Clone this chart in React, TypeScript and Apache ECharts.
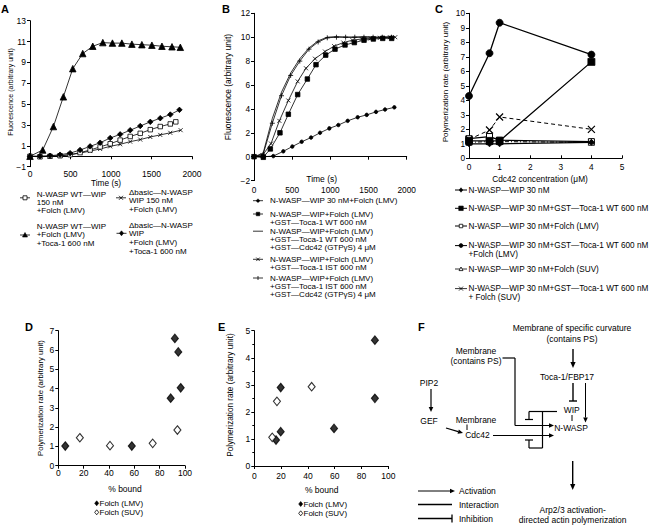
import React, { useEffect, useRef } from "react";
import * as echarts from "echarts";

const FONT = "'Liberation Sans', Arial, Helvetica, sans-serif";
const FS = 8.3;
const LFS = 8;
const BLACK = "#000";

// ---------- Panel A (fluorescence vs time) ----------
const aTriTime = [0, 157, 289, 412, 528, 651, 775, 899, 1018, 1134, 1258, 1381, 1505, 1629, 1753, 1856];
const aTriValue = [0, 0.6, 2.85, 5.7, 8.4, 9.85, 10.55, 10.9, 10.85, 10.85, 10.75, 10.7, 10.65, 10.55, 10.5, 10.45];
const aDiamondTime = [0, 123, 247, 371, 495, 618, 742, 866, 990, 1113, 1237, 1361, 1485, 1608, 1732, 1845];
const aDiamondValue = [0, 0, 0.05, 0.15, 0.3, 0.6, 0.95, 1.3, 1.75, 2.1, 2.5, 2.9, 3.3, 3.65, 4.0, 4.45];
const aSquareTime = [0, 123, 247, 371, 495, 618, 742, 866, 990, 1113, 1237, 1361, 1485, 1608, 1732, 1800];
const aSquareValue = [0, -0.05, 0, 0.05, 0.15, 0.35, 0.6, 0.9, 1.2, 1.55, 1.9, 2.2, 2.55, 2.85, 3.1, 3.3];
const aCrossTime = [0, 123, 247, 371, 495, 618, 742, 866, 990, 1113, 1237, 1361, 1485, 1608, 1732, 1860];
const aCrossValue = [0, 0, 0, 0.05, 0.15, 0.3, 0.5, 0.7, 0.95, 1.15, 1.4, 1.6, 1.85, 2.05, 2.25, 2.5];

// ---------- Panel B ----------
const bCircleTime = [0, 130, 253, 384, 502, 624, 747, 865, 987, 1105, 1227, 1358, 1476, 1598, 1716, 1838];
const bCircleValue = [0, 0, 0.05, 0.45, 0.85, 1.25, 1.6, 2.0, 2.37, 2.65, 3.0, 3.3, 3.5, 3.75, 3.95, 4.13];
const bSquareTime = [0, 122, 214, 340, 450, 572, 699, 812, 939, 1061, 1192, 1314, 1441, 1563, 1686, 1803];
const bSquareValue = [0, -0.05, 0.65, 2.0, 3.55, 5.2, 6.5, 7.7, 8.5, 9.0, 9.35, 9.55, 9.75, 9.85, 9.9, 9.9];
const bCrossTime = [0, 110, 223, 332, 450, 572, 681, 799, 930, 1050, 1170, 1290, 1410, 1530, 1650, 1780, 1850];
const bCrossValue = [0, 0.1, 1.1, 3.0, 4.7, 6.3, 7.4, 8.2, 8.8, 9.25, 9.55, 9.75, 9.85, 9.9, 9.95, 10.0, 10.0];
const bFastTime = [0, 120, 240, 360, 480, 600, 720, 840, 960, 1080, 1200, 1320, 1440, 1560, 1680, 1800];
const bWtCdc42Value = [0, 0.3, 3.2, 5.4, 7.0, 8.2, 9.1, 9.7, 10.0, 10.05, 10.0, 10.0, 10.05, 10.0, 10.0, 10.05];
const bIstCdc42Value = [0, 0.2, 2.8, 5.1, 6.8, 8.0, 9.0, 9.6, 9.95, 10.0, 10.0, 10.0, 10.0, 10.0, 10.0, 10.0];

// ---------- Panel C ----------
const cConc = [0, 0.67, 1, 4];
const cWaspWip = [1.0, 1.0, 1.0, 1.1];
const cToca = [1.2, 1.2, 1.2, 6.65];
const cFolchLmv = [1.35, 1.5, 1.25, 1.15];
const cTocaFolchLmv = [4.3, 7.25, 9.35, 7.15];
const cFolchSuv = [1.1, 1.15, 1.15, 1.1];
const cTocaFolchSuv = [1.3, 1.95, 2.85, 2.0];

// ---------- Panel D ----------
const dLmvBound = [5.5, 58, 88.7, 92, 94.7, 96.6];
const dLmvRate = [1.02, 1.02, 3.5, 6.6, 5.9, 4.04];
const dSuvBound = [17, 40.8, 74.5, 94];
const dSuvRate = [1.45, 1.04, 1.16, 1.85];

// ---------- Panel E ----------
const eLmvBound = [19.7, 19.7, 16.2, 59.5, 90, 90];
const eLmvRate = [2.9, 1.27, 0.96, 1.39, 4.65, 2.5];
const eSuvBound = [13.4, 16.9, 42.8];
const eSuvRate = [1.06, 2.39, 2.93];

const zip = (xs: number[], ys: number[]) => xs.map((x, i) => [x, ys[i]]);

const CROSS = "path://M0,0L10,10M10,0L0,10";
const PLUS = "path://M5,0L5,10M0,5L10,5";

function txt(x: number, y: number, text: string, o: any = {}) {
  return {
    type: "text",
    x,
    y,
    rotation: o.rot ?? 0,
    silent: true,
    style: {
      text,
      fill: BLACK,
      fontSize: o.size ?? FS,
      fontFamily: FONT,
      fontWeight: o.weight ?? "normal",
      align: o.align ?? "left",
      verticalAlign: o.va ?? "middle",
    },
  };
}
function lines(x: number, y0: number, dy: number, arr: string[], o: any = {}) {
  return arr.map((s, i) => txt(x, y0 + i * dy, s, { size: LFS, ...o }));
}
function ln(x1: number, y1: number, x2: number, y2: number, w = 1, dash?: number[]) {
  return {
    type: "line",
    silent: true,
    shape: { x1, y1, x2, y2 },
    style: { stroke: BLACK, lineWidth: w, lineDash: dash },
  };
}
function arrow(x1: number, y1: number, x2: number, y2: number, w = 1.2, hl = 5, hw = 2.3) {
  const dx = x2 - x1, dy = y2 - y1, L = Math.hypot(dx, dy);
  const ux = dx / L, uy = dy / L;
  const bx = x2 - ux * hl, by = y2 - uy * hl;
  const px = -uy, py = ux;
  return [
    ln(x1, y1, bx, by, w),
    {
      type: "polygon",
      silent: true,
      shape: { points: [[x2, y2], [bx + px * hw, by + py * hw], [bx - px * hw, by - py * hw]] },
      style: { fill: BLACK },
    },
  ];
}
function inhibit(x1: number, y1: number, x2: number, y2: number, w = 1.2, half = 4) {
  const dx = x2 - x1, dy = y2 - y1, L = Math.hypot(dx, dy);
  const px = -dy / L, py = dx / L;
  return [ln(x1, y1, x2, y2, w), ln(x2 + px * half, y2 + py * half, x2 - px * half, y2 - py * half, w)];
}
function sym(kind: string, cx: number, cy: number, half = 5, s = 4, lw = 0.8): any[] {
  const els: any[] = [];
  if (half > 0) els.push(ln(cx - half, cy, cx + half, cy, lw));
  const r = s / 2;
  const fillB = { fill: BLACK, stroke: BLACK, lineWidth: 0.6 };
  const open = { fill: "#fff", stroke: BLACK, lineWidth: 0.8 };
  switch (kind) {
    case "rectOpen":
      els.push({ type: "rect", silent: true, shape: { x: cx - r, y: cy - r, width: s, height: s }, style: open });
      break;
    case "rectFill":
      els.push({ type: "rect", silent: true, shape: { x: cx - r, y: cy - r, width: s, height: s }, style: fillB });
      break;
    case "circleFill":
      els.push({ type: "circle", silent: true, shape: { cx, cy, r }, style: fillB });
      break;
    case "triFill":
    case "triOpen":
      els.push({
        type: "polygon",
        silent: true,
        shape: { points: [[cx, cy - r], [cx + r, cy + r * 0.8], [cx - r, cy + r * 0.8]] },
        style: kind === "triFill" ? fillB : open,
      });
      break;
    case "diamondFill":
    case "diamondOpen":
      els.push({
        type: "polygon",
        silent: true,
        shape: { points: [[cx, cy - r], [cx + r * 0.8, cy], [cx, cy + r], [cx - r * 0.8, cy]] },
        style: kind === "diamondFill" ? fillB : open,
      });
      break;
    case "cross":
      els.push(ln(cx - r, cy - r, cx + r, cy + r, 0.8), ln(cx - r, cy + r, cx + r, cy - r, 0.8));
      break;
    case "plus":
      els.push(ln(cx, cy - r, cx, cy + r, 0.8));
      break;
  }
  return els;
}

const minusFmt = (v: number) => (v < 0 ? "\u2212" + Math.abs(v) : String(v));

function xAxis(grid: number, min: number, max: number, interval: number, extra: any = {}) {
  return {
    type: "value",
    gridIndex: grid,
    min,
    max,
    interval,
    axisLine: { show: true, onZero: true, lineStyle: { color: BLACK, width: 1 } },
    axisTick: { show: true, length: 3, inside: extra.tickInside ?? false, lineStyle: { color: BLACK } },
    axisLabel: {
      color: BLACK,
      fontSize: extra.size ?? FS,
      fontFamily: FONT,
      margin: extra.margin ?? 4,
      showMinLabel: true,
      showMaxLabel: true,
      formatter: minusFmt,
    },
    splitLine: { show: false },
  };
}
function yAxis(grid: number, min: number, max: number, interval: number, extra: any = {}) {
  return {
    type: "value",
    gridIndex: grid,
    min,
    max,
    interval,
    axisLine: { show: true, onZero: false, lineStyle: { color: BLACK, width: 1 } },
    axisTick: { show: true, length: 3, lineStyle: { color: BLACK } },
    minorTick: extra.minor ? { show: true, splitNumber: 2, length: 2, lineStyle: { color: BLACK } } : { show: false },
    axisLabel: {
      color: BLACK,
      fontSize: extra.size ?? FS,
      fontFamily: FONT,
      margin: extra.margin ?? 4,
      showMinLabel: true,
      showMaxLabel: true,
      formatter: minusFmt,
    },
    splitLine: { show: false },
  };
}

function lineSeries(ax: number, data: number[][], symbol: string, size: number, filled: boolean, extra: any = {}) {
  return {
    type: "line",
    xAxisIndex: ax,
    yAxisIndex: ax,
    data,
    color: BLACK,
    symbol,
    symbolSize: size,
    showAllSymbol: true,
    showSymbol: symbol !== "none",
    z: extra.z ?? 2,
    lineStyle: { color: BLACK, width: extra.width ?? 0.8, type: extra.dash ?? "solid" },
    itemStyle: {
      color: filled ? BLACK : symbol.startsWith("path://") ? "rgba(0,0,0,0)" : "#fff",
      borderColor: BLACK,
      borderWidth: extra.bw ?? 0.8,
    },
    emphasis: { disabled: true },
  };
}
function scatterSeries(ax: number, data: number[][], filled: boolean) {
  return {
    type: "scatter",
    xAxisIndex: ax,
    yAxisIndex: ax,
    data,
    symbol: "diamond",
    symbolSize: [7, 8.5],
    itemStyle: { color: filled ? BLACK : "#fff", borderColor: BLACK, borderWidth: 1.1 },
    emphasis: { disabled: true },
  };
}

function buildGraphic() {
  const g: any[] = [];
  // Panel letters
  g.push(txt(1, 9, "A", { size: 11, weight: "bold" }));
  g.push(txt(222, 9, "B", { size: 11, weight: "bold" }));
  g.push(txt(435, 9, "C", { size: 11, weight: "bold" }));
  g.push(txt(25, 327, "D", { size: 11, weight: "bold" }));
  g.push(txt(218, 327, "E", { size: 11, weight: "bold" }));
  g.push(txt(418, 327, "F", { size: 11, weight: "bold" }));

  // Axis names
  g.push(txt(10, 92, "Fluorescence (arbitrary unit)", { align: "center", rot: Math.PI / 2, size: 7 }));
  g.push(txt(106, 183.3, "Time (s)", { align: "center", size: 8.3 }));
  g.push(txt(228, 87, "Fluorescence (arbitrary unit)", { align: "center", rot: Math.PI / 2, size: 8.5 }));
  g.push(txt(321.7, 179, "Time (s)", { align: "center", size: 8.5 }));
  g.push(txt(445, 82, "Polymerization rate (arbitrary unit)", { align: "center", rot: Math.PI / 2, size: 8 }));
  g.push(txt(540, 178.8, "Cdc42 concentration (\u03bcM)", { align: "center", size: 8.3 }));
  g.push(txt(40, 398, "Polymerization rate (arbitrary unit)", { align: "center", rot: Math.PI / 2, size: 7.7 }));
  g.push(txt(125, 489, "% bound", { align: "center", size: 8.5 }));
  g.push(txt(230, 395, "Polymerization rate (arbitrary unit)", { align: "center", rot: Math.PI / 2, size: 8.2 }));
  g.push(txt(321.7, 490, "% bound", { align: "center", size: 8.5 }));

  // Legend A
  g.push(...sym("rectOpen", 25, 197.8, 5, 4));
  g.push(...lines(36.7, 194, 8.1, ["N-WASP WT\u2014WIP", "150 nM", "+Folch (LMV)"]));
  g.push(...sym("cross", 121, 197.8, 5, 4));
  g.push(...lines(129, 192.5, 8.3, ["\u0394basic\u2014N-WASP", "WIP 150 nM", "+Folch (LMV)"]));
  g.push(...sym("triFill", 25, 235, 5, 5));
  g.push(...lines(36.7, 226, 8.6, ["N-WASP WT\u2014WIP", "+Folch (LMV)", "+Toca-1 600 nM"]));
  g.push(...sym("diamondFill", 121.5, 233.3, 5, 5));
  g.push(...lines(129, 225, 8.9, ["\u0394basic\u2014N-WASP", "WIP", "+Folch (LMV)", "+Toca-1 600 nM"]));

  // Legend B
  g.push(...sym("circleFill", 258, 200.7, 5, 3));
  g.push(...lines(270, 200.7, 8.1, ["N-WASP\u2014WIP 30 nM+Folch (LMV)"]));
  g.push(...sym("rectFill", 258, 214, 5, 3.5));
  g.push(...lines(270, 214, 8.1, ["N-WASP\u2014WIP+Folch (LMV)", "+GST\u2014Toca-1 WT 600 nM"]));
  g.push(...sym("none", 258, 231.2, 5, 3));
  g.push(
    ...lines(270, 231.2, 8.1, ["N-WASP\u2014WIP+Folch (LMV)", "+GST\u2014Toca-1 WT 600 nM", "+GST\u2014Cdc42 (GTP\u03b3S) 4 \u03bcM"])
  );
  g.push(...sym("cross", 258, 259.3, 5, 3.5));
  g.push(...lines(270, 259.3, 8.1, ["N-WASP\u2014WIP+Folch (LMV)", "+GST\u2014Toca-1 IST 600 nM"]));
  g.push(...sym("plus", 258, 278, 5, 4));
  g.push(
    ...lines(270, 278, 8.1, ["N-WASP\u2014WIP+Folch (LMV)", "+GST\u2014Toca-1 IST 600 nM", "+GST\u2014Cdc42 (GTP\u03b3S) 4 \u03bcM"])
  );

  // Legend C
  const cs = { size: 8.2 };
  g.push(...sym("diamondFill", 461, 190, 6, 4.5, 1));
  g.push(...lines(468.5, 190, 8.4, ["N-WASP\u2014WIP 30 nM"], cs));
  g.push(...sym("rectFill", 461, 208.3, 6, 4.5, 1));
  g.push(...lines(468.5, 208.3, 8.4, ["N-WASP\u2014WIP 30 nM+GST\u2014Toca-1 WT 600 nM"], cs));
  g.push(...sym("rectOpen", 461, 226, 6, 3.5, 1));
  g.push(...lines(468.5, 226, 8.4, ["N-WASP\u2014WIP 30 nM+Folch (LMV)"], cs));
  g.push(...sym("circleFill", 461, 245.6, 6, 4, 1));
  g.push(...lines(468.5, 245.6, 8.4, ["N-WASP\u2014WIP 30 nM+GST\u2014Toca-1 WT 600 nM", "+Folch (LMV)"], cs));
  g.push(...sym("triOpen", 461, 269, 6, 4, 0.8));
  g.push(...lines(468.5, 269, 8.4, ["N-WASP\u2014WIP 30 nM+Folch (SUV)"], cs));
  g.push(...sym("cross", 461, 288.6, 6, 4, 0.8));
  g.push(...lines(468.5, 288.6, 8.4, ["N-WASP\u2014WIP 30 nM+GST\u2014Toca-1 WT 600 nM", "+ Folch (SUV)"], cs));

  // Legend D / E
  g.push(...sym("diamondFill", 96.7, 503.3, 0, 5));
  g.push(txt(99.5, 503.3, "Folch (LMV)", { size: 8 }));
  g.push(...sym("diamondOpen", 96.7, 512.3, 0, 5));
  g.push(txt(99.5, 512.3, "Folch (SUV)", { size: 8 }));
  g.push(...sym("diamondFill", 300.7, 504, 0, 5));
  g.push(txt(303.5, 504, "Folch (LMV)", { size: 8 }));
  g.push(...sym("diamondOpen", 300.7, 513.3, 0, 5));
  g.push(txt(303.5, 513.3, "Folch (SUV)", { size: 8 }));

  // Panel F diagram
  const F = 8.5;
  g.push(txt(572, 328, "Membrane of specific curvature", { align: "center", size: F }));
  g.push(txt(572, 338.5, "(contains PS)", { align: "center", size: F }));
  g.push(...arrow(573, 349, 573, 368, 1.4, 6, 2.6));
  g.push(txt(567, 377, "Toca-1/FBP17", { align: "center", size: F }));
  g.push(...inhibit(573, 383, 573, 401, 1.4, 4));
  g.push(...arrow(585.5, 383, 585.5, 422.5, 1, 5, 2.3));
  g.push(txt(571.7, 410, "WIP", { align: "center", size: F }));
  g.push(ln(572, 415, 572, 421, 1));
  g.push(txt(571, 427.5, "N-WASP", { align: "center", size: F }));

  g.push(txt(476, 350.5, "Membrane", { align: "center", size: F }));
  g.push(txt(476, 361, "(contains PS)", { align: "center", size: F }));
  g.push(ln(502.5, 358, 515, 358, 1.2));
  g.push(ln(515, 358, 515, 425.5, 1.2));
  g.push(...arrow(515, 425.5, 554, 425.5, 1.2, 5, 2.3));

  g.push(txt(429, 383, "PIP2", { align: "center", size: F }));
  g.push(...arrow(431, 389, 431, 412, 1.2, 5, 2.3));
  g.push(txt(429, 421, "GEF", { align: "center", size: F }));
  g.push(...arrow(446, 428, 463, 433, 1.2, 5, 2.3));
  g.push(txt(476, 420, "Membrane", { align: "center", size: F }));
  g.push(ln(467, 424.5, 467, 430, 1));
  g.push(txt(477.5, 434.5, "Cdc42", { align: "center", size: F }));
  g.push(...arrow(493, 435.5, 554, 435.5, 1.2, 5, 2.3));

  g.push(ln(529, 411.5, 557, 411.5, 1.2));
  g.push(...inhibit(529, 411.5, 529, 419.5, 1.2, 4));
  g.push(ln(542.5, 411.5, 542.5, 448, 1.2));
  g.push(ln(529, 448, 542.5, 448, 1.2));
  g.push(...inhibit(529, 448, 529, 440, 1.2, 4));

  g.push(...arrow(572.7, 461, 572.7, 490, 1.4, 6, 2.6));
  g.push(txt(572.7, 510, "Arp2/3 activation-", { align: "center", size: F }));
  g.push(txt(572.7, 520, "directed actin polymerization", { align: "center", size: F }));

  g.push(...arrow(418, 491, 455, 491, 1, 5, 2.2));
  g.push(txt(459, 491, "Activation", { size: F }));
  g.push(ln(418, 504.5, 452, 504.5, 1.3));
  g.push(txt(459, 504.5, "Interaction", { size: F }));
  g.push(...inhibit(418, 518.5, 452, 518.5, 1.3, 4));
  g.push(txt(459, 518.5, "Inhibition", { size: F }));
  return g;
}

function buildOption() {
  return {
    animation: false,
    textStyle: { fontFamily: FONT },
    grid: [
      { left: 30, top: 20.7, width: 162, height: 146 },
      { left: 254, top: 13.3, width: 152.7, height: 167.3 },
      { left: 469, top: 13.3, width: 153, height: 145 },
      { left: 58.3, top: 330.7, width: 126.7, height: 135 },
      { left: 254.3, top: 330.7, width: 134, height: 135.3 },
    ],
    xAxis: [
      xAxis(0, 0, 2000, 500, { margin: 2.5, size: 8.5 }),
      xAxis(1, 0, 2000, 500, { margin: 5.5 }),
      xAxis(2, 0, 5, 1, { margin: 5, tickInside: true }),
      xAxis(3, 0, 100, 20, { margin: 3, size: 8.5 }),
      xAxis(4, 0, 100, 20, { margin: 5, size: 8.5 }),
    ],
    yAxis: [
      yAxis(0, -1, 13, 2, { size: 8.5 }),
      yAxis(1, -2, 12, 2),
      yAxis(2, 0, 10, 1),
      yAxis(3, 0, 7, 1, { size: 8.5 }),
      yAxis(4, 0, 5, 1, { size: 8.5, minor: true }),
    ],
    series: [
      // A
      lineSeries(0, zip(aCrossTime, aCrossValue), CROSS, 4, false),
      lineSeries(0, zip(aSquareTime, aSquareValue), "rect", 4.5, false),
      lineSeries(0, zip(aDiamondTime, aDiamondValue), "diamond", 5.5, true),
      lineSeries(0, zip(aTriTime, aTriValue), "triangle", 6.5, true),
      // B
      lineSeries(1, zip(bCircleTime, bCircleValue), "circle", 3.5, true),
      lineSeries(1, zip(bSquareTime, bSquareValue), "rect", 4.5, true),
      lineSeries(1, zip(bCrossTime, bCrossValue), CROSS, 4, false),
      lineSeries(1, zip(bFastTime, bWtCdc42Value), "none", 0, true),
      lineSeries(1, zip(bFastTime, bIstCdc42Value), PLUS, 5, false),
      // C (open square drawn first so the filled markers sit on top)
      lineSeries(2, zip(cConc, cFolchLmv), "rect", 6, false, { width: 1.3, bw: 1, z: 1 }),
      lineSeries(2, zip(cConc, cFolchSuv), "triangle", 6, false, { width: 1, dash: [4, 2, 1, 2] }),
      lineSeries(2, zip(cConc, cWaspWip), "diamond", 6, true, { width: 1.3 }),
      lineSeries(2, zip(cConc, cToca), "rect", 7, true, { width: 1.3 }),
      lineSeries(2, zip(cConc, cTocaFolchSuv), CROSS, 7, false, { width: 1, dash: [4, 3], bw: 1.2 }),
      lineSeries(2, zip(cConc, cTocaFolchLmv), "circle", 7, true, { width: 1.3, z: 3 }),
      // D
      scatterSeries(3, zip(dLmvBound, dLmvRate), true),
      scatterSeries(3, zip(dSuvBound, dSuvRate), false),
      // E
      scatterSeries(4, zip(eLmvBound, eLmvRate), true),
      scatterSeries(4, zip(eSuvBound, eSuvRate), false),
    ],
    graphic: { elements: buildGraphic() },
  };
}

export default function App() {
  const ref = useRef<HTMLDivElement>(null);
  useEffect(() => {
    if (!ref.current) return;
    const chart = echarts.init(ref.current, undefined, { renderer: "svg" });
    chart.setOption(buildOption() as any);
    return () => chart.dispose();
  }, []);
  return (
    <div
      ref={ref}
      style={{ position: "fixed", left: 0, top: 0, width: 653, height: 526, background: "#fff" }}
    />
  );
}
